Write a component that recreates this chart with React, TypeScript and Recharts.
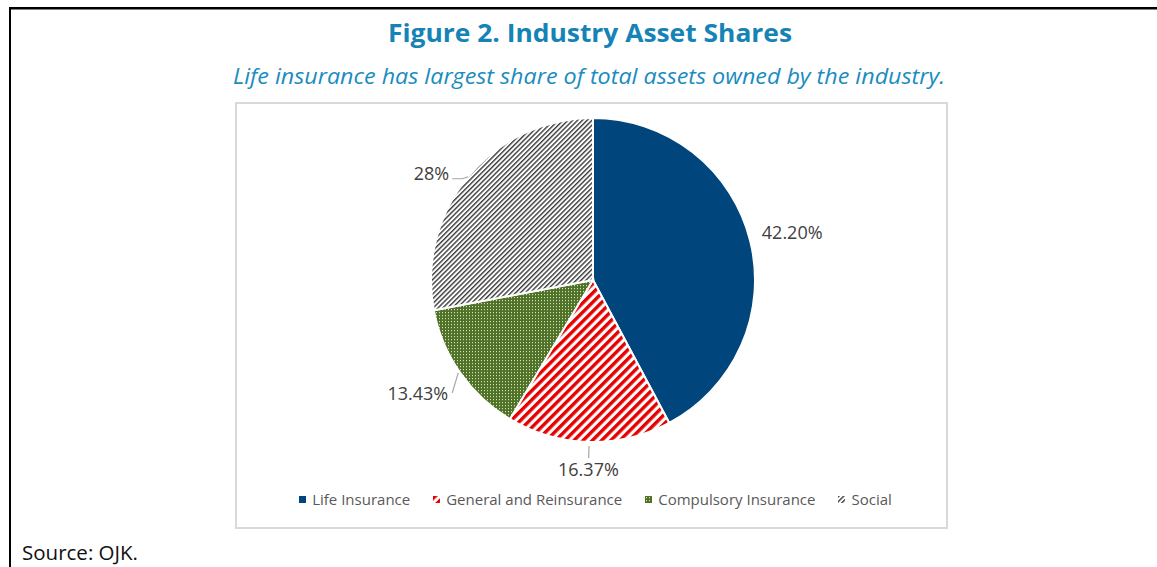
import React from "react";
import { PieChart, Pie, Cell, Legend } from "recharts";

const categories = ["Life Insurance", "General and Reinsurance", "Compulsory Insurance", "Social"];
const shares = [42.2, 16.37, 13.43, 28];
const shareLabels = ["42.20%", "16.37%", "13.43%", "28%"];
const fills = ["#00457c", "url(#patRed)", "url(#patGreen)", "url(#patSocial)"];

const data = categories.map((name, i) => ({ name, value: shares[i], label: shareLabels[i] }));

const RAD = Math.PI / 180;
const polar = (cx: number, cy: number, r: number, a: number) => ({
  x: cx + r * Math.cos(-a * RAD),
  y: cy + r * Math.sin(-a * RAD),
});

const labelColor = "#404040";
const lineColor = "#a6a6a6";
const labelFont = "'Open Sans', sans-serif";

function renderLabel(props: any) {
  const { cx, cy, midAngle, outerRadius, index } = props;
  const text = shareLabels[index];
  const E = polar(cx, cy, outerRadius, midAngle);
  const common = { fill: labelColor, fontSize: 18, fontFamily: labelFont, dominantBaseline: "central" as const };
  if (index === 0) {
    const p = polar(cx, cy, outerRadius + 12, midAngle);
    return (
      <text x={p.x} y={p.y - 6} textAnchor="start" {...common}>
        {text}
      </text>
    );
  }
  if (index === 1) {
    const a = polar(cx, cy, outerRadius + 4, midAngle);
    const b = polar(cx, cy, outerRadius + 16, midAngle);
    const t = polar(cx, cy, outerRadius + 27, midAngle);
    return (
      <g>
        <line x1={a.x} y1={a.y} x2={b.x} y2={b.y} stroke={lineColor} strokeWidth={1.2} />
        <text x={t.x} y={t.y} textAnchor="middle" {...common}>
          {text}
        </text>
      </g>
    );
  }
  if (index === 2) {
    return (
      <g>
        <polyline points={`${E.x - 2},${E.y} ${E.x - 8},${E.y + 20}`} fill="none" stroke={lineColor} strokeWidth={1.2} />
        <text x={E.x - 12} y={E.y + 20} textAnchor="end" {...common}>
          {text}
        </text>
      </g>
    );
  }
  return (
    <g>
      <polyline
        points={`${E.x},${E.y} ${E.x - 6},${E.y + 2} ${E.x - 16},${E.y + 2}`}
        fill="none"
        stroke={lineColor}
        strokeWidth={1.2}
      />
      <text x={E.x - 19} y={E.y - 4} textAnchor="end" {...common}>
        {text}
      </text>
    </g>
  );
}

function LegendContent() {
  return (
    <div
      style={{
        display: "flex",
        justifyContent: "center",
        alignItems: "center",
        fontFamily: labelFont,
        fontSize: 15,
        color: "#595959",
        paddingLeft: 8,
      }}
    >
      {categories.map((c, i) => (
        <div key={c} style={{ display: "flex", alignItems: "center", marginRight: i < categories.length - 1 ? 23 : 0 }}>
          <svg width={7} height={7} style={{ marginRight: 6 }}>
            <rect x={0} y={0} width={7} height={7} fill={fills[i]} />
          </svg>
          <span>{c}</span>
        </div>
      ))}
    </div>
  );
}

export default function App() {
  return (
    <div style={{ position: "absolute", left: 0, top: 0, width: 1157, height: 567, background: "#fff", overflow: "hidden" }}>
      <svg width={1157} height={567} style={{ position: "absolute", left: 0, top: 0 }}>
        <rect x={9} y={7} width={1148} height={2.5} fill="#000" />
        <rect x={9} y={7} width={2} height={560} fill="#000" />
        <text
          x={388}
          y={42}
          textLength={404}
          lengthAdjust="spacingAndGlyphs"
          fill="#1683b6"
          fontFamily="'Open Sans', sans-serif"
          fontWeight={700}
          fontSize={25}
        >
          Figure 2. Industry Asset Shares
        </text>
        <text
          x={233}
          y={84}
          textLength={712}
          lengthAdjust="spacingAndGlyphs"
          fill="#1a8cc0"
          fontFamily="'Open Sans', sans-serif"
          fontStyle="italic"
          fontSize={21}
        >
          Life insurance has largest share of total assets owned by the industry.
        </text>
        <text
          x={22}
          y={560}
          textLength={116}
          lengthAdjust="spacingAndGlyphs"
          fill="#111"
          fontFamily="'Open Sans', sans-serif"
          fontSize={20}
        >
          Source: OJK.
        </text>
      </svg>
      <div
        style={{
          position: "absolute",
          left: 235,
          top: 102,
          width: 713,
          height: 427,
          border: "2px solid #d9d9d9",
          boxSizing: "border-box",
          background: "#fff",
        }}
      >
        <PieChart width={709} height={423} margin={{ top: 0, right: 0, bottom: 0, left: 0 }}>
          <defs>
            <pattern id="patRed" patternUnits="userSpaceOnUse" width={6.5} height={6.5} patternTransform="rotate(45)">
              <rect x={0} y={0} width={6.5} height={6.5} fill="#fff" />
              <rect x={0} y={0} width={3.4} height={6.5} fill="#e60000" />
            </pattern>
            <pattern id="patGreen" patternUnits="userSpaceOnUse" width={3} height={3}>
              <rect x={0} y={0} width={3} height={3} fill="#4f7226" />
              <rect x={1} y={1} width={1} height={1.2} fill="#d5e0c4" />
            </pattern>
            <pattern id="patSocial" patternUnits="userSpaceOnUse" width={3.4} height={3.4} patternTransform="rotate(45)">
              <rect x={0} y={0} width={3.4} height={3.4} fill="#fff" />
              <rect x={0} y={0} width={1.4} height={3.4} fill="#3a3a3a" />
            </pattern>
          </defs>
          <Pie
            data={data}
            dataKey="value"
            nameKey="name"
            cx={356}
            cy={176}
            outerRadius={162}
            startAngle={90}
            endAngle={-270}
            stroke="#fff"
            strokeWidth={2}
            label={renderLabel}
            labelLine={false}
            isAnimationActive={false}
          >
            {data.map((d, i) => (
              <Cell key={d.name} fill={fills[i]} />
            ))}
          </Pie>
          <Legend
            content={() => <LegendContent />}
            wrapperStyle={{ position: "absolute", top: 385, left: 0, width: 709, height: 22 }}
          />
        </PieChart>
      </div>
    </div>
  );
}
